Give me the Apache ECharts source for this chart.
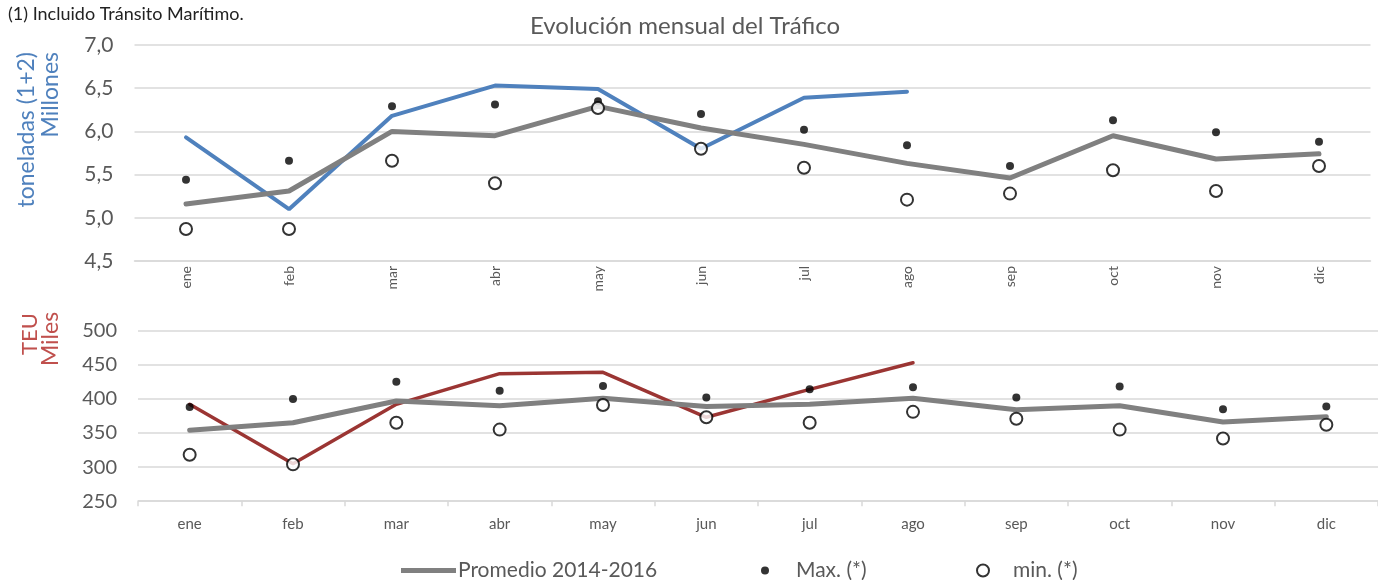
<!DOCTYPE html>
<html>
<head>
<meta charset="utf-8">
<script src="https://cdn.jsdelivr.net/npm/echarts@6/dist/echarts.min.js"></script>
<style>
html,body{margin:0;padding:0;background:#fff;}
#chart{width:1378px;height:580px;}
</style>
</head>
<body>
<div id="chart"></div>
<script>
var months = ['ene','feb','mar','abr','may','jun','jul','ago','sep','oct','nov','dic'];

// Toneladas (millones)
var tonActual = [5.93, 5.10, 6.18, 6.53, 6.49, 5.80, 6.39, 6.46];
var tonPromedio = [5.16, 5.31, 6.00, 5.95, 6.29, 6.04, 5.85, 5.63, 5.46, 5.95, 5.68, 5.74];
var tonMax = [5.44, 5.66, 6.29, 6.31, 6.35, 6.20, 6.02, 5.84, 5.60, 6.13, 5.99, 5.88];
var tonMin = [4.87, 4.87, 5.66, 5.40, 6.27, 5.80, 5.58, 5.21, 5.28, 5.55, 5.31, 5.60];

// TEU (miles)
var teuActual = [392, 305, 392, 437, 439, 373, 414, 453];
var teuPromedio = [354, 365, 397, 390, 401, 389, 392, 401, 384, 390, 366, 374];
var teuMax = [388, 400, 425, 412, 419, 402, 414, 417, 402, 418, 385, 389];
var teuMin = [318, 304, 365, 355, 391, 373, 365, 381, 371, 355, 342, 362];

var FONT = 'Lato, "Open Sans", sans-serif';
var GRIDC = '#d9d9d9';
var TXT = '#595959';

var chart = echarts.init(document.getElementById('chart'));
var option = {
  animation: false,
  backgroundColor: '#fff',
  textStyle: {fontFamily: FONT},
  title: {
    text: 'Evolución mensual del Tráfico',
    left: 680, top: 9, textAlign: 'center',
    textStyle: {fontFamily: FONT, fontSize: 24, fontWeight: 'normal', color: TXT}
  },
  graphic: [
    {type: 'text', left: 8, top: 5, style: {text: '(1) Incluido Tránsito Marítimo.', fontFamily: FONT, fontSize: 18, fill: '#222'}},
    {type: 'text', x: 27, y: 52, rotation: Math.PI/2, style: {text: 'toneladas (1+2)', fontFamily: FONT, fontSize: 23, fill: '#4F81BD', align: 'right', verticalAlign: 'middle'}},
    {type: 'text', x: 51, y: 52, rotation: Math.PI/2, style: {text: 'Millones', fontFamily: FONT, fontSize: 23, fill: '#4F81BD', align: 'right', verticalAlign: 'middle'}},
    {type: 'text', x: 30, y: 334, rotation: Math.PI/2, style: {text: 'TEU', fontFamily: FONT, fontSize: 22, fill: '#C0504D', align: 'center', verticalAlign: 'middle'}},
    {type: 'text', x: 51, y: 339, rotation: Math.PI/2, style: {text: 'Miles', fontFamily: FONT, fontSize: 23, fill: '#C0504D', align: 'center', verticalAlign: 'middle'}}
  ],
  legend: [
    {data: ['Promedio 2014-2016'], left: 401, top: 560, padding: 0, icon: 'rect', itemWidth: 55, itemHeight: 5,
     textStyle: {fontFamily: FONT, fontSize: 21, color: TXT, padding: [0,0,0,-3]}},
    {data: ['Max. (*)'], left: 761, top: 560, padding: 0, icon: 'circle', itemWidth: 8, itemHeight: 8,
     textStyle: {fontFamily: FONT, fontSize: 21, color: TXT, padding: [0,0,0,22]}},
    {data: ['min. (*)'], left: 976, top: 560, padding: 0, icon: 'circle', itemWidth: 12, itemHeight: 12,
     textStyle: {fontFamily: FONT, fontSize: 21, color: TXT, padding: [0,0,0,19]}}
  ],
  grid: [
    {left: 134.5, width: 1236, top: 45, height: 216},
    {left: 138, width: 1244, top: 330.7, height: 170.5}
  ],
  xAxis: [
    {type: 'category', gridIndex: 0, data: months, boundaryGap: true,
     axisLine: {show: true, lineStyle: {color: GRIDC, width: 1.5}},
     axisTick: {show: false},
     axisLabel: {rotate: 90, fontSize: 14, color: TXT, margin: 5, fontFamily: FONT}},
    {type: 'category', gridIndex: 1, data: months, boundaryGap: true,
     axisLine: {show: true, lineStyle: {color: GRIDC, width: 1.5}},
     axisTick: {show: true, length: 5, lineStyle: {color: GRIDC, width: 1.5}},
     axisLabel: {fontSize: 15, color: TXT, margin: 15, fontFamily: FONT}}
  ],
  yAxis: [
    {type: 'value', gridIndex: 0, min: 4.5, max: 7.0, interval: 0.5,
     axisLine: {show: false}, axisTick: {show: false},
     splitLine: {lineStyle: {color: GRIDC, width: 1.5}},
     axisLabel: {fontSize: 21, color: TXT, margin: 21, fontFamily: FONT,
       formatter: function (v) { return v.toFixed(1).replace('.', ','); }}},
    {type: 'value', gridIndex: 1, min: 250, max: 500, interval: 50,
     axisLine: {show: false}, axisTick: {show: false},
     splitLine: {lineStyle: {color: GRIDC, width: 1.5}},
     axisLabel: {fontSize: 20, color: TXT, margin: 21, fontFamily: FONT}}
  ],
  series: [
    {name: '2017 toneladas', type: 'line', xAxisIndex: 0, yAxisIndex: 0, data: tonActual,
     symbol: 'none', z: 2, lineStyle: {color: '#4F81BD', width: 4, cap: 'round'}, itemStyle: {color: '#4F81BD'}},
    {name: 'Promedio 2014-2016', type: 'line', xAxisIndex: 0, yAxisIndex: 0, data: tonPromedio,
     symbol: 'none', z: 3, lineStyle: {color: '#808080', width: 5, cap: 'round'}, itemStyle: {color: '#808080'}},
    {name: 'Max. (*)', type: 'scatter', xAxisIndex: 0, yAxisIndex: 0, data: tonMax,
     symbol: 'circle', symbolSize: 8, z: 4, itemStyle: {color: '#000'}},
    {name: 'min. (*)', type: 'scatter', xAxisIndex: 0, yAxisIndex: 0, data: tonMin,
     symbol: 'circle', symbolSize: 12, z: 4, itemStyle: {color: '#fff', borderColor: '#000', borderWidth: 2}},

    {name: '2017 TEU', type: 'line', xAxisIndex: 1, yAxisIndex: 1, data: teuActual,
     symbol: 'none', z: 2, lineStyle: {color: '#9B3533', width: 3.5, cap: 'round'}, itemStyle: {color: '#9B3533'}},
    {name: 'Promedio 2014-2016', type: 'line', xAxisIndex: 1, yAxisIndex: 1, data: teuPromedio,
     symbol: 'none', z: 3, lineStyle: {color: '#808080', width: 5, cap: 'round'}, itemStyle: {color: '#808080'}},
    {name: 'Max. (*)', type: 'scatter', xAxisIndex: 1, yAxisIndex: 1, data: teuMax,
     symbol: 'circle', symbolSize: 8, z: 4, itemStyle: {color: '#000'}},
    {name: 'min. (*)', type: 'scatter', xAxisIndex: 1, yAxisIndex: 1, data: teuMin,
     symbol: 'circle', symbolSize: 12, z: 4, itemStyle: {color: '#fff', borderColor: '#000', borderWidth: 2}}
  ]
};
chart.setOption(option);
</script>
</body>
</html>
